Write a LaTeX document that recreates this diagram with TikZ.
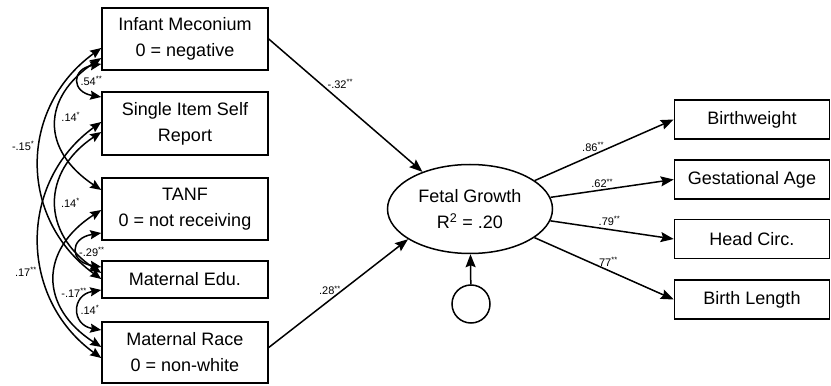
\documentclass[tikz,border=0pt]{standalone}
\usepackage{fontspec}
\setmainfont{Liberation Sans}
\usetikzlibrary{shapes.geometric,arrows.meta}
\begin{document}
\begin{tikzpicture}[x=1pt,y=1pt,
	obs/.style={draw,line width=1.5pt,minimum width=166pt,minimum height=62pt,inner sep=0pt,align=center,font=\fontsize{18}{26}\selectfont},
	ind/.style={obs,minimum width=155pt,minimum height=39pt},
	regr/.style={line width=1.5pt,-{Stealth[length=13pt,width=10pt,inset=2pt]}},
	cov/.style={line width=1.5pt,{Stealth[length=11pt,width=9pt,inset=1.5pt]}-{Stealth[length=11pt,width=9pt,inset=1.5pt]}},
	coef/.style={font=\fontsize{11}{12}\selectfont,inner sep=1pt}]
	\useasboundingbox (0,0) rectangle (831,386);
	% observed predictors
	\node[obs] (im) at (185,347) {Infant Meconium\\0 = negative};
	\node[obs,minimum height=63pt] (sr) at (185,262.5) {Single Item Self\\Report};
	\node[obs] (tanf) at (185,177) {TANF\\0 = not receiving};
	\node[obs,minimum height=37pt] (edu) at (185,106.5) {Maternal Edu.};
	\node[obs,minimum height=61pt] (race) at (185,33.5) {Maternal Race\\0 = non-white};
	% latent factor and its error
	\node[draw,ellipse,line width=1.5pt,minimum width=165pt,minimum height=89pt,inner sep=0pt,align=center,font=\fontsize{18}{26}\selectfont] (fg) at (470,177) {Fetal Growth\\R\textsuperscript{2} = .20};
	\node[draw,circle,line width=1.5pt,minimum size=38pt,inner sep=0pt] (err) at (471,82) {};
	% indicators
	\node[ind] (bw) at (752,266.5) {Birthweight};
	\node[ind] (ga) at (752,206.5) {Gestational Age};
	\node[ind] (hc) at (752,147) {Head Circ.};
	\node[ind] (bl) at (752,86.5) {Birth Length};
	% paths
	\draw[regr] (im.east) -- (fg.142) node[coef,pos=.44,above=7pt,xshift=4pt] {-.32\textsuperscript{**}};
	\draw[regr] ([yshift=5pt]race.east) -- (fg.206) node[coef,pos=.44,above=3pt] {.28\textsuperscript{**}};
	\draw[regr] (err) -- (fg);
	\draw[regr] (fg) -- (bw.west) node[coef,pos=.42,above=2pt] {.86\textsuperscript{**}};
	\draw[regr] (fg) -- (ga.west) node[coef,pos=.42,above] {.62\textsuperscript{**}};
	\draw[regr] (fg) -- (hc.west) node[coef,pos=.48,above=2pt] {.79\textsuperscript{**}};
	\draw[regr] (fg) -- (bl.west) node[coef,pos=.52,above=2pt] {.77\textsuperscript{**}};
	% covariances
	\draw[cov] ([yshift=-25pt]im.west) .. controls +(-30,-5) and +(-30,5) .. ([yshift=26.5pt]sr.west) node[coef,pos=.5,right] {.54\textsuperscript{**}};
	\draw[cov] ([yshift=-19pt]im.west) .. controls +(-60,-40) and +(-60,40) .. ([yshift=19pt]tanf.west) node[coef,pos=.45,right=3pt] {.14\textsuperscript{*}};
	\draw[cov] ([yshift=-9pt]im.west) .. controls +(-83,-60) and +(-83,60) .. ([yshift=0.5pt]edu.west) node[coef,pos=.43,left=4pt] {-.15\textsuperscript{*}};
	\draw[cov] ([yshift=1.5pt]sr.west) .. controls +(-83,-60) and +(-83,60) .. ([yshift=-5.5pt]race.west) node[coef,pos=.62,left=4pt] {.17\textsuperscript{**}};
	\draw[cov] ([yshift=-8.5pt]sr.west) .. controls +(-60,-40) and +(-60,40) .. ([yshift=6.5pt]edu.west) node[coef,pos=.5,right=3pt] {.14\textsuperscript{*}};
	\draw[cov] ([yshift=-24pt]tanf.west) .. controls +(-32,-5) and +(-32,5) .. ([yshift=12.5pt]edu.west) node[coef,pos=.55,right] {-.29\textsuperscript{**}};
	\draw[cov] ([yshift=-1pt]tanf.west) .. controls +(-62,-40) and +(-62,40) .. ([yshift=5.5pt]race.west) node[coef,pos=.6,right=3pt] {-.17\textsuperscript{**}};
	\draw[cov] ([yshift=-10.5pt]edu.west) .. controls +(-30,-5) and +(-30,5) .. ([yshift=22.5pt]race.west) node[coef,pos=.5,right] {.14\textsuperscript{*}};
\end{tikzpicture}
\end{document}
